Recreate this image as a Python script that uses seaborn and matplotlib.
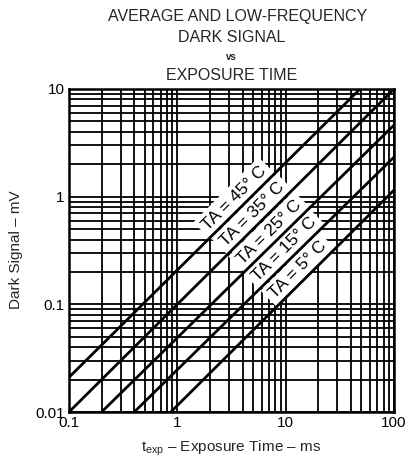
import numpy as np
import pandas as pd
import matplotlib
matplotlib.use("Agg")
import matplotlib.pyplot as plt
from matplotlib.ticker import LogLocator, NullFormatter
import seaborn as sns

# ---- data ----
temps = ["45", "35", "25", "15", "5"]
x_start = [0.1, 0.1, 0.2, 0.4, 0.87]
y_start = [0.021, 0.01, 0.01, 0.01, 0.01]
x_end = [48.6, 100.0, 100.0, 100.0, 100.0]
y_end = [10.0, 10.0, 4.62, 2.33, 1.15]
label_x = [3.96, 5.8, 8.33, 11.5, 15.4]

xticks = [0.1, 1, 10, 100]
xtick_labels = ["0.1", "1", "10", "100"]
yticks = [0.01, 0.1, 1, 10]
ytick_labels = ["0.01", "0.1", "1", "10"]

title_lines = ["AVERAGE AND LOW-FREQUENCY", "DARK SIGNAL", "vs", "EXPOSURE TIME"]

rows = []
for t, xs, ys, xe, ye in zip(temps, x_start, y_start, x_end, y_end):
    rows.append({"t": t, "x": xs, "y": ys})
    rows.append({"t": t, "x": xe, "y": ye})
df = pd.DataFrame(rows)

sns.set_theme(style="white")
plt.rcParams["font.family"] = ["Liberation Sans", "DejaVu Sans"]
plt.rcParams["mathtext.fontset"] = "custom"
plt.rcParams["mathtext.rm"] = "Liberation Sans"
plt.rcParams["mathtext.it"] = "Liberation Sans"

fig = plt.figure(figsize=(4.06, 4.62), dpi=100)
ax = fig.add_axes([69 / 406, 1 - 412 / 462, 325 / 406, 323 / 462])
ax.set_xscale("log")
ax.set_yscale("log")

sns.lineplot(data=df, x="x", y="y", hue="t", units="t", estimator=None,
             palette={t: "black" for t in temps}, legend=False, sort=False,
             linewidth=2.0, ax=ax, zorder=4)

ax.set_xlim(0.1, 100)
ax.set_ylim(0.01, 10)
ax.set_xticks(xticks, labels=xtick_labels)
ax.set_yticks(yticks, labels=ytick_labels)
ax.xaxis.set_minor_locator(LogLocator(base=10, subs=np.arange(2, 10)))
ax.yaxis.set_minor_locator(LogLocator(base=10, subs=np.arange(2, 10)))
ax.xaxis.set_minor_formatter(NullFormatter())
ax.yaxis.set_minor_formatter(NullFormatter())
ax.tick_params(which="both", length=0, labelsize=11, colors="black", pad=3)
ax.grid(True, which="both", color="black", linewidth=1.3)
ax.set_axisbelow(True)
for s in ax.spines.values():
    s.set_color("black")
    s.set_linewidth(1.8)
ax.set_xlabel("")
ax.set_ylabel("")

# labels along the lines
for t, xs, ys, xe, ye, lx in zip(temps, x_start, y_start, x_end, y_end, label_x):
    lx_log = np.log10(lx)
    frac = (lx_log - np.log10(xs)) / (np.log10(xe) - np.log10(xs))
    ly = 10 ** (np.log10(ys) + frac * (np.log10(ye) - np.log10(ys)))
    ax.annotate(f"TA = {t}° C", xy=(lx, ly), xytext=(-5.6, 5.6),
                textcoords="offset points", rotation=45,
                rotation_mode="anchor", ha="center", va="center",
                fontsize=12.5, color="black", zorder=3,
                bbox=dict(boxstyle="square,pad=0.25", fc="white", ec="none"))

# title
cx = (69 + 394) / 2 / 406
fig.text(238 / 406, 1 - 17 / 462, title_lines[0], ha="center", va="center", fontsize=11.5)
fig.text(cx, 1 - 38 / 462, title_lines[1], ha="center", va="center", fontsize=11.5)
fig.text(cx, 1 - 57 / 462, title_lines[2], ha="center", va="center", fontsize=7,
         fontweight="bold")
fig.text(cx, 1 - 75 / 462, title_lines[3], ha="center", va="center", fontsize=11.5)

fig.text(cx, 1 - 448 / 462, r"t$_{\mathrm{exp}}$ – Exposure Time – ms",
         ha="center", va="center", fontsize=11)
fig.text(16 / 406, 1 - 250 / 462, "Dark Signal – mV", ha="center", va="center",
         rotation=90, fontsize=11)

fig.savefig("out.png", dpi=100)
